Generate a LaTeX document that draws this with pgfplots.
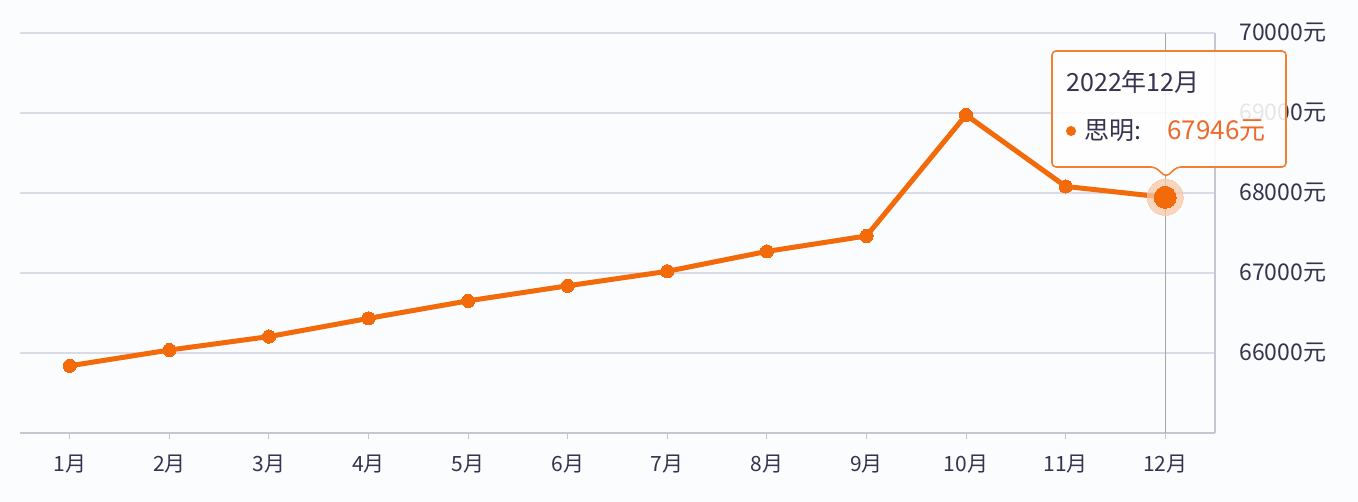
\documentclass[border=0pt]{standalone}
\usepackage{fontspec}
\setmainfont{Noto Sans CJK SC}
\usepackage{pgfplots}
\pgfplotsset{compat=1.18}
\definecolor{bgc}{HTML}{FBFCFE}
\definecolor{lineor}{HTML}{F26A0A}
\definecolor{valor}{HTML}{EC6A2C}
\definecolor{gridc}{HTML}{D9DCE6}
\definecolor{axc}{HTML}{C3C7D2}
\definecolor{txt}{HTML}{36324F}
\definecolor{halo}{HTML}{F8C9A6}

\begin{document}
\begin{tikzpicture}
\useasboundingbox[fill=bgc] (0,0) rectangle (679pt,251pt);
\begin{axis}[
  at={(10pt,34.5pt)}, anchor=south west,
  scale only axis, width=597.5pt, height=200pt,
  xmin=0.5, xmax=12.5, ymin=65000, ymax=70000,
  axis x line=bottom, axis y line=right,
  axis line style={-, draw=axc, line width=0.6pt},
  xtick={1,...,12},
  xticklabels={1月,2月,3月,4月,5月,6月,7月,8月,9月,10月,11月,12月},
  ytick={66000,67000,68000,69000,70000},
  scaled y ticks=false,
  tick align=outside, major tick length=3pt,
  xtick style={draw=axc, line width=0.5pt},
  ytick style={draw=none},
  ymajorgrids, grid style={draw=gridc, line width=0.6pt},
  /pgf/number format/assume math mode=true,
  /pgf/number format/set thousands separator={},
  yticklabel={\pgfmathprintnumber[fixed,precision=0]{\tick}元},
  yticklabel style={anchor=west, inner sep=0pt, xshift=9pt, font=\fontsize{11.5}{13}\selectfont, text=txt},
  xticklabel style={anchor=center, yshift=-12.5pt, font=\fontsize{10.5}{12}\selectfont, text=txt},
  clip=false,
]
\draw[draw=axc, line width=0.6pt] (axis cs:12.5,65000) -- (axis cs:12.5,70000);
\draw[draw=gridc, line width=0.6pt] (axis cs:0.5,70000) -- (axis cs:12.5,70000);
\draw[draw=black!35, line width=0.5pt] (axis cs:12,65000) -- (axis cs:12,70000);
\addplot[lineor, line width=2.5pt, mark=*, mark size=3.3pt, mark options={fill=lineor, draw=lineor, line width=0pt}]
  coordinates {
  (1,65840) (2,66037) (3,66205) (4,66433) (5,66652) (6,66840)
  (7,67021) (8,67270) (9,67463) (10,68975) (11,68082) (12,67946)
  };
\addplot[halo, only marks, mark=*, mark size=9pt, mark options={fill=halo, draw=halo, line width=0pt, opacity=0.75}]
  coordinates {(12,67946)};
\addplot[lineor, only marks, mark=*, mark size=5.5pt, mark options={fill=lineor, draw=lineor, line width=0pt}]
  coordinates {(12,67946)};
\end{axis}
\begin{scope}[x=0.5pt, y=0.5pt]
\draw[draw=lineor!85, line width=0.8pt, fill=white, fill opacity=0.88, rounded corners=2pt]
  (1052,335) -- (1052,451) -- (1286,451) -- (1286,335) -- (1177,335) -- (1166,325) -- (1155,335) -- cycle;
\node[anchor=west, inner sep=0pt, text=txt, font=\fontsize{12.5}{14}\selectfont] at (1066,420) {2022年12月};
\fill[lineor] (1071,371) circle (5);
\node[anchor=west, inner sep=0pt, text=txt, font=\fontsize{12.5}{14}\selectfont] at (1084,371) {思明:};
\node[anchor=west, inner sep=0pt, text=valor, font=\fontsize{13}{15}\selectfont] at (1167,371) {67946元};
\end{scope}
\end{tikzpicture}
\end{document}
